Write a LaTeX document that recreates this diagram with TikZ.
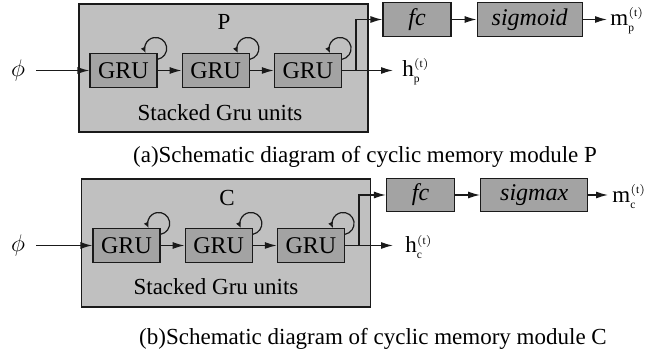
\documentclass[tikz,border=0pt]{standalone}
\usepackage{fontspec}
\setmainfont{Liberation Serif}
\usetikzlibrary{arrows.meta, positioning}
\definecolor{boxGray}{HTML}{C0C0C0}
\definecolor{unitGray}{HTML}{A3A3A3}
\definecolor{lineDark}{HTML}{1A1A1A}
\newcommand{\tinyidx}[2]{$^{\scriptscriptstyle(\mathrm{#1})}_{\scriptscriptstyle\mathrm{#2}}$}

\begin{document}
\begin{tikzpicture}[x=0.5pt, y=-0.5pt,
  outer/.style={draw=lineDark, line width=0.6pt, fill=boxGray, minimum width=144.5pt, minimum height=64pt, inner sep=0pt},
  gru/.style={draw=lineDark, line width=0.6pt, fill=unitGray, minimum width=33.5pt, minimum height=17pt, inner sep=0pt, font=\fontsize{12}{14}\selectfont},
  fcbox/.style={gru, minimum width=34pt, minimum height=16.8pt, font=\fontsize{12}{14}\selectfont\itshape},
  lbl/.style={font=\fontsize{11.5}{14}\selectfont, inner sep=0pt},
  arr/.style={-{Latex[length=6pt, width=3.5pt]}, line width=0.65pt, draw=lineDark},
  selfarr/.style={-{Latex[length=3pt, width=2.6pt]}, line width=0.6pt, draw=lineDark},
  node distance=12pt
]
\useasboundingbox (0,0) rectangle (665,352);

% (a) module P
\node[outer] (boxp) at (223.5,68) {};
\node[lbl] (namep) at (224,22) {P};
\node[lbl] (stackp) at (220,113) {Stacked Gru units};
\node[gru] (p1) at (123.5,70.5) {GRU};
\node[gru, right=of p1] (p2) {GRU};
\node[gru, right=of p2] (p3) {GRU};
\node[lbl, inner sep=5.5pt] (phip) at (18,70.5) {$\phi$};
\node[fcbox] (fcp) at (417,19.5) {fc};
\node[fcbox, minimum width=52.5pt, right=12.5pt of fcp] (actp) {sigmoid};
\coordinate (pjoin) at (356,70.5);
\coordinate (hpend) at (393,70.5);
\coordinate (mpend) at (607,19.5);
\node[lbl, anchor=west] (hp) at (402,72) {h\tinyidx{t}{p}};
\node[lbl, anchor=west] (mp) at (610,21) {m\tinyidx{t}{p}};
\node[lbl] (capa) at (365,157) {(a)Schematic diagram of cyclic memory module P};

\foreach \a/\b in {phip/p1, p1/p2, p2/p3, fcp/actp}
  \draw[arr] (\a) -- (\b);
\draw[arr] (p3.east) -- (hpend);
\draw[arr] (pjoin) |- (fcp.west);
\draw[arr] (actp.east) -- (mpend);
\foreach \g in {p1, p2, p3}
  \draw[selfarr] ([yshift=-3.2pt]\g.north east) arc[start angle=-80, end angle=205, radius=5.5pt];

% (b) module C
\node[outer] (boxc) at (226,243) {};
\node[lbl] (namec) at (227,198) {C};
\node[lbl] (stackc) at (216,287) {Stacked Gru units};
\node[gru] (c1) at (126.5,245.5) {GRU};
\node[gru, right=of c1] (c2) {GRU};
\node[gru, right=of c2] (c3) {GRU};
\node[lbl, inner sep=5.5pt] (phic) at (18,245.5) {$\phi$};
\node[fcbox] (fcc) at (420.5,195) {fc};
\node[fcbox, minimum width=53.5pt, right=12.5pt of fcc] (actc) {sigmax};
\coordinate (cjoin) at (359,245.5);
\coordinate (hcend) at (393,245.5);
\coordinate (mcend) at (608,195);
\node[lbl, anchor=west] (hc) at (405,247) {h\tinyidx{t}{c}};
\node[lbl, anchor=west] (mc) at (612,196.5) {m\tinyidx{t}{c}};
\node[lbl] (capb) at (373,339) {(b)Schematic diagram of cyclic memory module C};

\foreach \a/\b in {phic/c1, c1/c2, c2/c3, fcc/actc}
  \draw[arr] (\a) -- (\b);
\draw[arr] (c3.east) -- (hcend);
\draw[arr] (cjoin) |- (fcc.west);
\draw[arr] (actc.east) -- (mcend);
\foreach \g in {c1, c2, c3}
  \draw[selfarr] ([yshift=-3.2pt]\g.north east) arc[start angle=-80, end angle=205, radius=5.5pt];
\end{tikzpicture}
\end{document}
